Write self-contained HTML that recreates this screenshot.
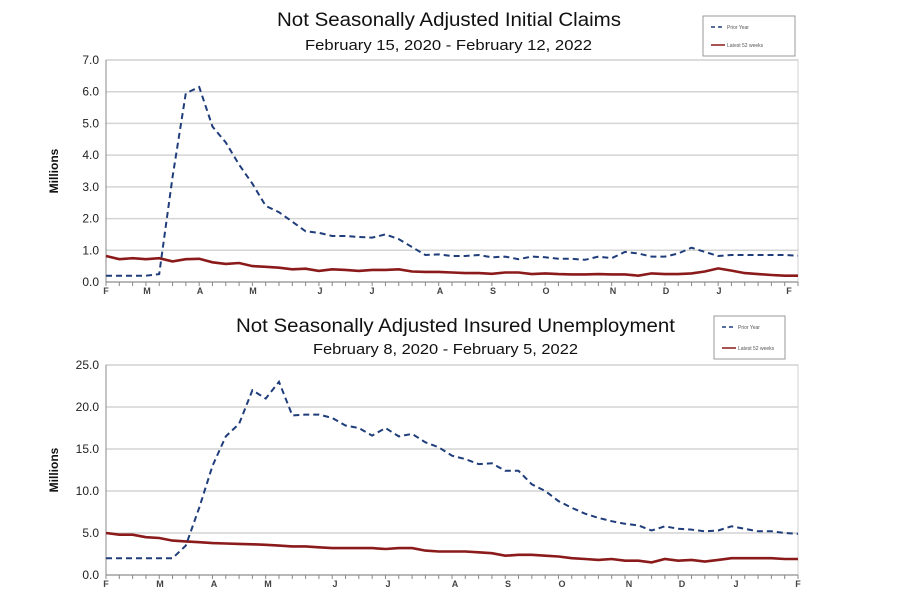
<!DOCTYPE html>
<html><head><meta charset="utf-8"><style>
html,body{margin:0;padding:0;background:#fff;width:911px;height:608px;overflow:hidden}
svg text{font-family:"Liberation Sans",Arial,sans-serif}
</style></head><body>
<svg id="s" width="911" height="608" xmlns="http://www.w3.org/2000/svg"></svg>
<script>
const s=document.getElementById('s');let h='';
function chart(o){
  const {x0,x1,yTop,yBot,max,step,blue,red,months,title,sub,ty,sy,leg}=o;
  const Y=v=>yBot-(v/max)*(yBot-yTop);
  for(let v=0;v<=max+1e-9;v+=step){const y=Y(v);
    h+=`<line x1="${x0}" x2="${x1}" y1="${y}" y2="${y}" stroke="#d4d4d4" stroke-width="1.5"/>`;
    h+=`<text x="${x0-7}" y="${y+4}" font-size="12" text-anchor="end" fill="#222">${v.toFixed(1)}</text>`;}
  h+=`<rect x="${x0}" y="${yTop}" width="${x1-x0}" height="${yBot-yTop}" fill="none" stroke="#d0d0d0"/>`;
  h+=`<line x1="${x0}" x2="${x1}" y1="${yBot}" y2="${yBot}" stroke="#888"/>`;
  h+=`<line x1="${x0}" x2="${x0}" y1="${yTop}" y2="${yBot}" stroke="#888"/>`;
  const n=blue.length,dx=(x1-x0)/(n-1);
  for(let i=0;i<n;i++){h+=`<line x1="${x0+i*dx}" x2="${x0+i*dx}" y1="${yBot}" y2="${yBot+4}" stroke="#888"/>`;}
  months.forEach(m=>h+=`<text x="${m[1]}" y="${yBot+12}" font-size="9" font-weight="bold" text-anchor="middle" fill="#444">${m[0]}</text>`);
  const pts=a=>a.map((v,i)=>(x0+i*dx).toFixed(1)+','+Y(v).toFixed(1)).join(' ');
  h+=`<polyline points="${pts(red)}" fill="none" stroke="#8b1a1a" stroke-width="2.6"/>`;
  h+=`<polyline points="${pts(blue)}" fill="none" stroke="#1f3d7a" stroke-width="2" stroke-dasharray="6,4"/>`;
  h+=`<text x="${o.tt[0]}" y="${ty}" font-size="19" textLength="${o.tt[1]}" lengthAdjust="spacingAndGlyphs" fill="#111">${title}</text>`;
  h+=`<text x="${o.st[0]}" y="${sy}" font-size="15" textLength="${o.st[1]}" lengthAdjust="spacingAndGlyphs" fill="#111">${sub}</text>`;
  h+=`<text transform="translate(${o.lx},${(yTop+yBot)/2}) rotate(-90)" font-size="12" font-weight="bold" text-anchor="middle" fill="#111">Millions</text>`;
  const [lx,ly,lw,lh]=leg;
  h+=`<rect x="${lx}" y="${ly}" width="${lw}" height="${lh}" fill="#fff" stroke="#999"/>`;
  h+=`<line x1="${lx+8}" x2="${lx+22}" y1="${ly+11}" y2="${ly+11}" stroke="#1f3d7a" stroke-width="1.5" stroke-dasharray="4,3"/>`;
  h+=`<text x="${lx+24}" y="${ly+13}" font-size="5" fill="#555">Prior Year</text>`;
  h+=`<line x1="${lx+8}" x2="${lx+22}" y1="${ly+lh-11}" y2="${ly+lh-11}" stroke="#8b1a1a" stroke-width="1.5"/>`;
  h+=`<text x="${lx+24}" y="${ly+lh-9}" font-size="5" fill="#555">Latest 52 weeks</text>`;
}
chart({x0:106,x1:798,yTop:60,yBot:282,max:7,step:1,tt:[277,344],st:[305,287],ty:26,sy:50,lx:58,leg:[703,16,92,40],
title:"Not Seasonally Adjusted Initial Claims",sub:"February 15, 2020 - February 12, 2022",
blue:[0.2,0.2,0.2,0.2,0.25,3.3,5.95,6.15,4.9,4.4,3.7,3.1,2.4,2.2,1.9,1.6,1.55,1.45,1.45,1.42,1.4,1.5,1.35,1.1,0.85,0.87,0.82,0.82,0.85,0.78,0.8,0.72,0.8,0.78,0.73,0.73,0.7,0.8,0.75,0.95,0.9,0.8,0.8,0.9,1.08,0.95,0.82,0.85,0.85,0.85,0.85,0.85,0.83],
red:[0.82,0.72,0.75,0.72,0.75,0.65,0.72,0.73,0.62,0.57,0.6,0.5,0.48,0.45,0.4,0.42,0.35,0.4,0.38,0.35,0.38,0.38,0.4,0.33,0.32,0.32,0.3,0.28,0.28,0.26,0.3,0.3,0.25,0.27,0.25,0.24,0.24,0.25,0.24,0.24,0.2,0.27,0.25,0.25,0.27,0.33,0.43,0.36,0.28,0.25,0.22,0.2,0.2],
months:[["F",106],["M",147],["A",200],["M",253],["J",320],["J",372],["A",440],["S",493],["O",546],["N",613],["D",666],["J",719],["F",789]]});
chart({x0:106,x1:798,yTop:365,yBot:575,max:25,step:5,tt:[236,439],st:[313,265],ty:332,sy:354,lx:58,leg:[714,316,71,43],
title:"Not Seasonally Adjusted Insured Unemployment",sub:"February 8, 2020 - February 5, 2022",
blue:[2,2,2,2,2,2,3.5,8,13,16.5,18,22,21,23,19,19.1,19.1,18.7,17.8,17.5,16.6,17.5,16.5,16.8,15.8,15.2,14.2,13.8,13.2,13.3,12.4,12.4,10.8,10,8.8,8,7.3,6.8,6.4,6.1,5.9,5.3,5.8,5.5,5.4,5.2,5.3,5.8,5.5,5.2,5.2,5.0,4.9],
red:[5,4.8,4.8,4.5,4.4,4.1,4,3.9,3.8,3.75,3.7,3.65,3.6,3.5,3.4,3.4,3.3,3.2,3.2,3.2,3.2,3.1,3.2,3.2,2.9,2.8,2.8,2.8,2.7,2.6,2.3,2.4,2.4,2.3,2.2,2,1.9,1.8,1.9,1.7,1.7,1.5,1.9,1.7,1.8,1.6,1.8,2,2,2,2,1.9,1.9],
months:[["F",106],["M",160],["A",214],["M",268],["J",335],["J",388],["A",455],["S",508],["O",562],["N",629],["D",682],["J",736],["F",798]]});
s.innerHTML=h;
</script>
</body></html>
